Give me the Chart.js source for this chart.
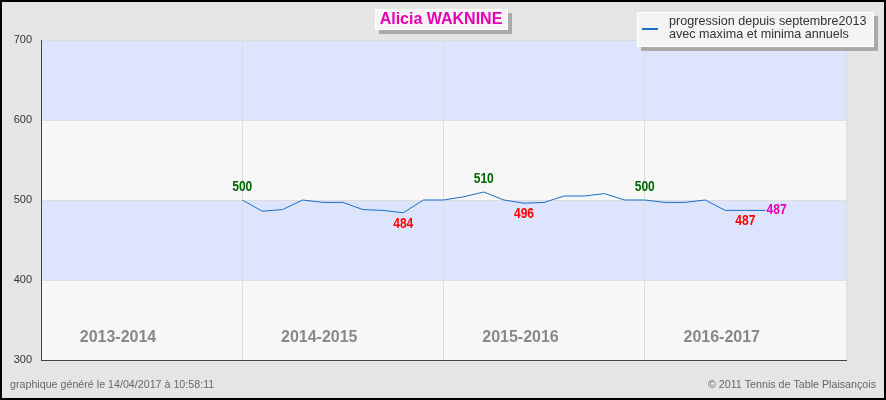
<!DOCTYPE html>
<html>
<head>
<meta charset="utf-8">
<script src="https://cdn.jsdelivr.net/npm/chart.js@4"></script>
<style>
  html, body { margin: 0; padding: 0; background: #e5e5e5; }
  #wrap { position: relative; width: 886px; height: 400px; box-sizing: border-box; border: 2px solid #000; }
  canvas { position: absolute; left: -2px; top: -2px; }
</style>
</head>
<body>
<div id="wrap"><canvas id="rankChart" width="886" height="400"></canvas></div>
<script>
// seasons and ranking points (one point per month, sept 2013 -> ...)
const seasons = ['2013-2014', '2014-2015', '2015-2016', '2016-2017'];
const yTicks = [300, 400, 500, 600, 700];
const points = [
  null, null, null, null, null, null, null, null, null, null,
  500, 486, 488, 500, 497, 497, 488, 487, 484, 500,
  500, 504, 510, 500, 496, 497, 505, 505, 508, 500,
  500, 497, 497, 500, 487, 487, 487,
  null, null, null, null
];
const maxIdx = [10, 22, 30];
const minIdx = [18, 24, 35];
const lastIdx = 36;
const months = points.map((p, i) => String(i));
const seasonStarts = [0, 10, 20, 30];

const playerName = 'Alicia WAKNINE';
const legendLines = ['progression depuis septembre2013', 'avec maxima et minima annuels'];
const footLeft = 'graphique généré le 14/04/2017 à 10:58:11';
const footRight = '© 2011 Tennis de Table Plaisançois';

// narrow bold digits like the original (squeezed Liberation Sans)
function narrowText(ctx, txt, x, y) {
  ctx.save();
  ctx.translate(x, y);
  ctx.scale(0.86, 1);
  ctx.fillText(txt, 0, 0);
  ctx.restore();
}

const decorations = {
  id: 'decorations',
  beforeDraw(chart) {
    const { ctx, chartArea: { left, right } } = chart;
    const y = chart.scales.y;
    ctx.save();
    ctx.fillStyle = '#e5e5e5';
    ctx.fillRect(0, 0, chart.width, chart.height);
    for (let v = 300; v < 700; v += 100) {
      ctx.fillStyle = (v === 400 || v === 600) ? '#dde4fd' : '#f7f7f7';
      const top = y.getPixelForValue(v + 100);
      const bot = y.getPixelForValue(v);
      ctx.fillRect(left, top, right - left, bot - top);
    }
    ctx.restore();
  },
  afterDraw(chart) {
    const { ctx } = chart;
    const x = chart.scales.x;
    const y = chart.scales.y;
    ctx.save();

    // season names
    ctx.font = 'bold 16px "Liberation Sans", Arial, sans-serif';
    ctx.fillStyle = '#888';
    ctx.textAlign = 'center';
    ctx.textBaseline = 'middle';
    seasons.forEach((s, k) => {
      ctx.fillText(s, x.getPixelForValue(seasonStarts[k]) + 77, 338);
    });

    // maxima / minima labels
    ctx.font = 'bold 14px "Liberation Sans", Arial, sans-serif';
    ctx.fillStyle = '#006600';
    maxIdx.forEach(i => {
      narrowText(ctx, points[i], x.getPixelForValue(i), y.getPixelForValue(points[i]) - 13);
    });
    ctx.fillStyle = '#ff0000';
    minIdx.forEach(i => {
      narrowText(ctx, points[i], x.getPixelForValue(i), y.getPixelForValue(points[i]) + 11);
    });
    ctx.fillStyle = '#e600b4';
    ctx.textAlign = 'left';
    narrowText(ctx, points[lastIdx], x.getPixelForValue(lastIdx) + 1, y.getPixelForValue(points[lastIdx]));

    // title box
    ctx.fillStyle = '#aaa';
    ctx.fillRect(379, 13, 133, 21);
    ctx.fillStyle = '#f4f4f4';
    ctx.fillRect(375, 9, 133, 21);
    ctx.strokeStyle = '#fff';
    ctx.lineWidth = 1;
    ctx.strokeRect(375.5, 9.5, 132, 20);
    ctx.font = 'bold 16px "Liberation Sans", Arial, sans-serif';
    ctx.fillStyle = '#e600b4';
    ctx.textAlign = 'center';
    ctx.fillText(playerName, 441, 20);

    // legend box
    ctx.fillStyle = '#aaa';
    ctx.fillRect(641, 16, 237, 35);
    ctx.fillStyle = '#f4f4f4';
    ctx.fillRect(637, 12, 237, 35);
    ctx.strokeStyle = '#fff';
    ctx.strokeRect(637.5, 12.5, 236, 34);
    ctx.strokeStyle = '#1a6fc4';
    ctx.lineWidth = 2;
    ctx.beginPath();
    ctx.moveTo(642, 29);
    ctx.lineTo(658, 29);
    ctx.stroke();
    ctx.font = '12.6px "Liberation Sans", Arial, sans-serif';
    ctx.fillStyle = '#333';
    ctx.textAlign = 'left';
    ctx.fillText(legendLines[0], 669, 22);
    ctx.fillText(legendLines[1], 669, 35);

    // footer
    ctx.font = '10.7px "Liberation Sans", Arial, sans-serif';
    ctx.fillStyle = '#666';
    ctx.fillText(footLeft, 10, 385);
    ctx.textAlign = 'right';
    ctx.fillText(footRight, 876, 385);

    // frame
    ctx.strokeStyle = '#000';
    ctx.lineWidth = 2;
    ctx.strokeRect(1, 1, chart.width - 2, chart.height - 2);
    ctx.restore();
  }
};

new Chart(document.getElementById('rankChart'), {
  type: 'line',
  data: {
    labels: months,
    datasets: [{
      data: points,
      borderColor: '#1a6fc4',
      borderWidth: 1,
      pointRadius: 0,
      tension: 0,
      spanGaps: false
    }]
  },
  options: {
    responsive: false,
    animation: false,
    layout: { padding: { top: 40, right: 40, bottom: 40, left: 0 } },
    plugins: { legend: { display: false }, tooltip: { enabled: false }, title: { display: false } },
    scales: {
      x: {
        type: 'category',
        offset: false,
        ticks: { display: false },
        grid: {
          drawTicks: false,
          color: ctx => ([10, 20, 30, 40].includes(ctx.index) ? '#dddddd' : 'rgba(0,0,0,0)'),
          lineWidth: 1
        },
        border: { color: '#444', width: 1 }
      },
      y: {
        min: 300,
        max: 700,
        afterBuildTicks: scale => { scale.ticks = yTicks.map(v => ({ value: v })); },
        afterFit: scale => { scale.width = 41; },
        ticks: {
          padding: 9,
          color: '#333',
          font: { family: '"Liberation Sans", Arial, sans-serif', size: 11 }
        },
        grid: {
          drawTicks: false,
          color: ctx => (ctx.tick && ctx.tick.value === 300 ? 'rgba(0,0,0,0)' : '#dddddd')
        },
        border: { color: '#444', width: 1 }
      }
    }
  },
  plugins: [decorations]
});
</script>
</body>
</html>
